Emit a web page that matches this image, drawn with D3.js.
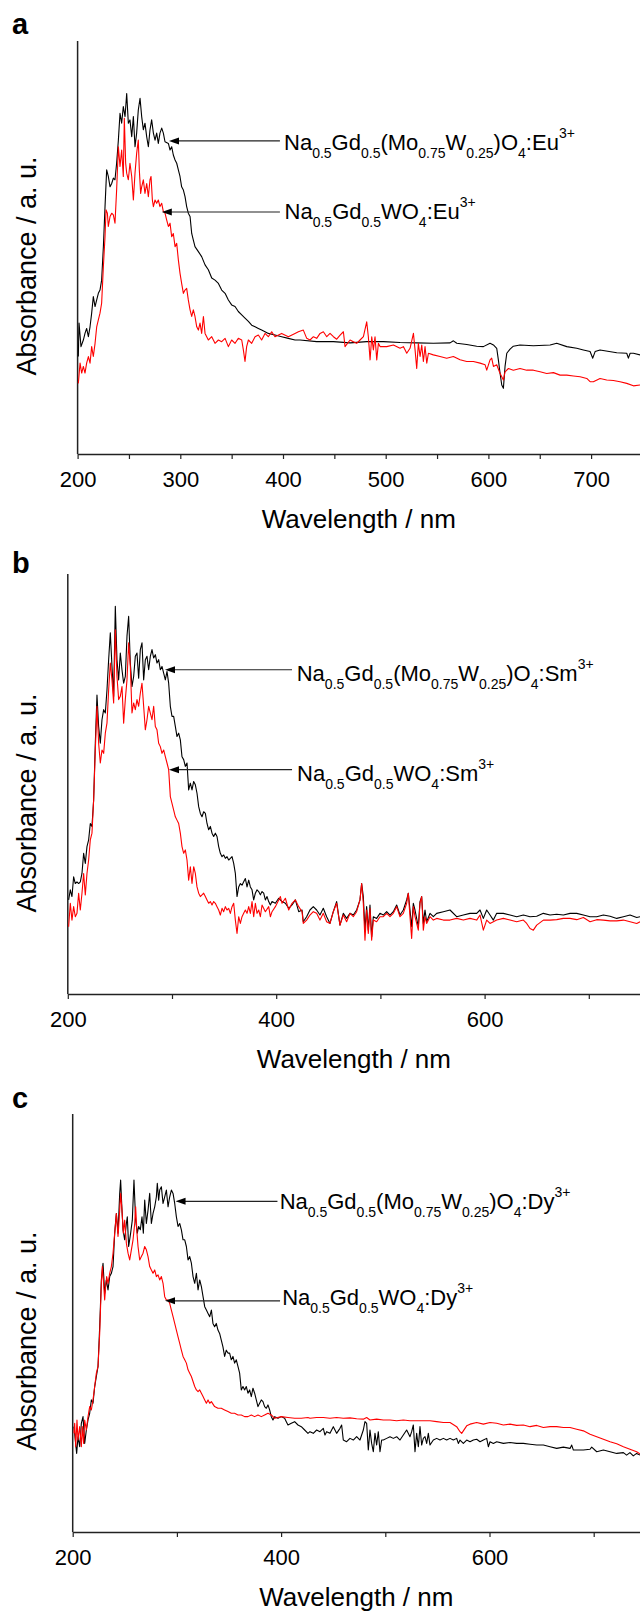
<!DOCTYPE html>
<html>
<head>
<meta charset="utf-8">
<script src="https://cdn.jsdelivr.net/npm/d3@7"></script>
<style>
	html, body { margin: 0; padding: 0; background: #fff; }
	svg { display: block; }
	text { font-family: "Liberation Sans", Arial, Helvetica, sans-serif; fill: #000; }
</style>
</head>
<body>
<svg id="chart" width="640" height="1612"></svg>
<script>
"use strict";

// spectra: [wavelength nm, absorbance a.u.]
// panel a, Eu3+
const aMoW = [
	[200.7,23.6],[201.4,31.7],[203.3,26.0],[205.6,27.6],[207.2,29.2],[208.8,30.4],[210.5,28.4],[212.1,30.8],[213.7,34.1],[215.3,38.1],
	[217.0,35.7],[218.6,37.3],[220.2,38.9],[221.8,39.7],[223.4,42.1],[225.1,50.2],[226.7,59.9],[228.3,68.8],[229.9,67.2],[231.6,64.7],
	[233.2,65.5],[234.8,66.8],[236.4,66.4],[238.0,70.4],[239.7,76.0],[241.3,82.5],[242.9,80.1],[244.5,84.1],[246.2,81.7],[247.8,87.3],
	[249.4,80.1],[251.0,80.9],[252.7,76.8],[254.3,81.7],[255.9,74.4],[257.5,77.7],[259.1,83.3],[260.8,86.1],[262.4,81.7],[264.0,78.5],
	[265.6,80.1],[267.3,76.8],[268.9,74.4],[270.5,78.5],[272.1,80.9],[273.8,77.7],[275.4,76.0],[277.0,77.7],[278.6,75.2],[280.2,77.7],
	[281.9,78.9],[283.5,77.7],[285.1,75.6],[288.4,75.2],[290.0,73.6],[291.6,74.4],[293.2,72.4],[294.9,71.2],[296.5,70.4],[298.1,68.8],
	[299.7,67.2],[301.3,64.7],[303.0,63.9],[304.6,62.3],[306.2,59.9],[307.8,58.3],[309.5,57.5],[311.1,53.4],[312.7,51.8],[314.3,50.2],
	[317.6,49.0],[320.8,47.8],[324.1,45.8],[327.3,44.6],[330.6,42.6],[333.8,42.1],[337.1,41.3],[340.3,39.7],[343.6,38.9],[346.8,37.3],
	[350.0,36.1],[353.3,35.7],[356.5,34.5],[359.8,33.7],[363.0,32.9],[366.3,32.1],[369.5,31.2],[372.8,30.8],[376.0,30.4],[379.2,30.0],
	[382.5,29.6],[385.7,29.2],[392.2,28.8],[398.7,28.4],[405.2,28.0],[411.7,27.6],[416.6,27.6],[432.8,27.2],[449.1,27.2],[465.3,26.9],
	[481.5,27.2],[497.8,27.2],[514.0,27.0],[530.2,26.9],[546.4,26.8],[562.7,26.9],[565.9,27.4],[569.2,26.8],[578.9,26.5],[588.6,26.1],
	[595.1,26.0],[601.6,26.8],[604.9,26.4],[608.1,25.6],[609.7,22.8],[611.4,19.5],[613.0,16.7],[614.6,15.9],[616.2,21.2],[617.9,24.4],
	[621.1,25.4],[624.3,26.1],[630.8,26.4],[643.8,26.2],[660.1,26.4],[666.5,26.8],[676.3,26.0],[686.0,25.6],[692.5,25.2],[699.0,24.8],
	[701.6,23.2],[703.9,24.8],[708.7,25.2],[725.0,24.5],[734.7,24.4],[736.3,23.2],[738.0,24.4],[741.2,24.4],[747.7,24.0]
];
const aW = [
	[200.7,17.1],[202.4,22.0],[204.0,19.6],[205.6,21.2],[207.2,19.6],[208.8,22.0],[210.5,23.6],[212.1,22.0],[213.7,26.0],[215.3,23.6],
	[217.0,26.8],[218.6,30.8],[220.2,32.5],[221.8,34.1],[223.4,36.5],[225.1,45.4],[226.7,52.6],[227.7,59.1],[229.0,58.3],[229.9,55.1],
	[231.6,57.5],[233.2,58.3],[234.8,57.9],[236.4,55.9],[238.0,63.9],[239.7,74.4],[241.3,69.6],[242.9,73.6],[244.5,67.2],[245.5,81.3],
	[246.8,70.4],[247.8,68.0],[249.4,66.4],[251.0,70.4],[252.7,67.2],[254.3,61.5],[255.9,68.0],[257.5,72.8],[259.1,76.0],[260.1,68.8],
	[261.4,63.1],[262.4,64.7],[264.0,66.4],[265.6,63.1],[267.3,65.5],[268.9,62.3],[270.5,66.4],[271.5,67.2],[272.8,61.5],[273.8,59.9],
	[275.4,61.5],[277.0,60.7],[278.6,61.5],[280.2,59.9],[281.9,60.7],[283.5,58.7],[285.1,58.3],[286.7,56.7],[288.4,55.1],[290.0,55.9],
	[291.6,52.6],[293.2,53.4],[294.9,50.2],[296.5,51.0],[298.1,47.0],[299.7,43.8],[301.3,41.3],[303.0,38.9],[304.6,39.7],[306.2,40.1],
	[307.8,37.3],[309.5,34.9],[311.1,33.3],[312.7,34.9],[314.3,33.3],[316.0,30.8],[317.6,30.0],[319.2,31.7],[320.8,29.2],[322.5,33.3],
	[324.1,29.2],[325.7,28.4],[327.3,27.6],[330.6,28.4],[333.8,26.8],[337.1,27.6],[340.3,27.2],[343.6,28.0],[346.8,26.0],[350.0,27.6],
	[353.3,26.8],[356.5,28.0],[359.8,27.6],[361.4,25.2],[363.0,22.4],[364.6,26.0],[366.3,27.6],[369.5,26.8],[372.8,28.4],[376.0,28.8],
	[379.2,27.6],[382.5,29.2],[385.7,28.4],[389.0,29.6],[392.2,28.4],[398.7,29.2],[405.2,28.4],[411.7,29.2],[415.0,29.6],[419.8,30.0],
	[423.1,28.0],[426.3,27.6],[429.6,28.4],[432.8,28.0],[436.1,29.2],[439.3,29.6],[442.6,28.4],[445.8,29.2],[449.1,28.4],[452.3,27.8],
	[455.6,28.8],[458.8,29.6],[460.4,26.0],[465.3,27.6],[468.5,27.2],[471.8,26.8],[475.0,27.6],[478.3,28.4],[481.5,32.0],[483.1,28.4],
	[484.8,22.8],[486.4,28.4],[488.0,25.2],[489.6,28.4],[491.3,22.8],[492.9,26.8],[494.5,26.0],[501.0,26.0],[507.5,26.4],[514.0,25.6],
	[517.2,26.0],[520.5,24.4],[523.7,25.6],[527.0,29.2],[528.6,25.2],[530.2,20.7],[531.8,26.8],[533.5,23.6],[535.1,26.4],[536.7,22.4],
	[538.3,26.0],[540.0,22.0],[541.6,24.4],[546.4,24.0],[552.9,23.6],[559.4,23.2],[565.9,23.6],[572.4,22.8],[578.9,22.4],[585.4,22.4],
	[591.9,22.0],[596.8,21.6],[598.4,20.3],[601.6,22.8],[603.2,23.2],[604.9,21.2],[608.1,21.6],[611.4,19.5],[613.0,18.7],[614.6,17.9],
	[616.2,19.9],[619.5,20.7],[624.3,20.3],[630.8,20.7],[637.3,20.3],[643.8,20.3],[650.3,19.9],[656.8,19.5],[663.3,19.7],[669.8,19.1],
	[676.3,19.1],[682.8,18.9],[689.3,18.7],[695.8,18.3],[699.0,17.5],[702.2,17.5],[708.7,18.3],[715.2,17.9],[721.7,17.8],[728.2,17.5],
	[734.7,17.1],[741.2,16.5],[747.7,16.7]
];

// panel b, Sm3+
const bMoW = [
	[200.8,22.4],[202.4,24.8],[204.0,23.2],[205.6,27.9],[207.2,26.3],[208.8,26.7],[210.4,26.3],[212.0,26.7],[213.6,28.7],[215.2,33.5],
	[216.8,31.1],[218.4,35.1],[220.0,36.7],[221.6,40.6],[223.2,39.9],[224.8,46.2],[226.4,59.7],[228.0,71.2],[229.6,63.7],[231.2,59.7],
	[232.8,65.3],[234.4,67.7],[236.0,66.9],[237.6,72.4],[239.2,79.6],[240.8,86.0],[242.4,78.0],[244.0,70.9],[245.6,92.3],[247.2,79.6],
	[248.8,74.8],[250.4,81.2],[252.0,77.2],[253.6,74.0],[255.2,75.6],[256.8,85.2],[258.4,89.9],[260.0,78.8],[261.6,73.2],[263.2,75.6],
	[264.8,80.4],[266.4,81.2],[268.0,75.2],[269.6,82.0],[271.2,83.6],[272.8,74.8],[274.4,79.6],[276.0,80.4],[277.6,77.2],[279.2,80.4],
	[280.8,82.0],[282.4,80.0],[284.0,80.8],[285.6,78.8],[287.2,79.6],[288.8,77.2],[290.4,78.0],[292.0,76.4],[293.6,74.8],[295.2,76.8],
	[296.8,74.0],[298.4,68.5],[300.0,66.1],[301.6,66.1],[303.2,63.7],[304.8,61.3],[306.4,62.1],[308.0,60.5],[309.6,56.5],[311.2,55.8],
	[312.8,54.2],[314.4,55.0],[316.0,48.6],[317.6,50.2],[319.2,48.6],[320.8,50.6],[322.4,49.8],[324.0,47.8],[325.6,44.6],[327.2,43.0],
	[328.8,42.2],[330.4,43.4],[332.0,43.0],[333.6,40.6],[335.2,39.1],[336.8,39.9],[338.4,38.3],[340.0,37.5],[341.6,38.3],[343.2,37.5],
	[344.8,35.1],[346.4,33.5],[348.0,32.7],[349.6,33.1],[351.2,32.3],[352.8,32.7],[354.4,31.9],[356.0,32.3],[357.6,32.7],[359.2,31.1],
	[360.8,28.7],[362.4,23.2],[364.0,25.5],[365.6,26.3],[367.2,25.9],[368.8,26.7],[370.4,27.5],[372.0,25.5],[373.6,27.1],[375.2,25.5],
	[376.8,24.8],[378.4,22.4],[380.0,24.0],[381.6,24.8],[383.2,24.4],[384.8,23.6],[386.4,24.4],[388.0,24.0],[389.6,22.4],[391.2,23.2],
	[392.8,22.0],[394.4,21.2],[396.0,22.0],[399.2,21.6],[402.4,22.8],[405.6,22.0],[408.8,21.6],[412.0,20.4],[415.2,21.2],[418.4,22.4],
	[421.6,19.6],[424.8,20.0],[426.0,17.2],[429.2,18.4],[432.4,20.0],[435.6,20.8],[438.8,20.0],[442.0,18.8],[445.2,20.4],[448.4,18.4],
	[451.6,16.8],[454.8,19.6],[458.0,22.0],[461.2,16.4],[464.4,19.2],[467.6,18.0],[470.8,19.2],[474.0,18.8],[477.2,20.0],[480.4,22.4],
	[482.0,26.3],[483.6,23.2],[485.2,15.2],[486.8,20.8],[488.4,15.2],[490.0,21.2],[491.6,13.6],[493.2,18.4],[496.4,18.0],[499.6,19.2],
	[502.8,18.8],[506.0,19.6],[509.2,18.8],[512.4,19.6],[515.6,21.2],[518.8,18.8],[522.0,20.0],[525.2,22.4],[526.8,24.0],[528.4,20.0],
	[530.0,16.0],[531.6,21.6],[533.2,20.0],[536.4,16.0],[538.0,22.0],[539.6,23.2],[541.2,16.8],[542.8,20.0],[544.4,17.2],[547.6,19.2],
	[550.8,18.4],[554.0,19.2],[560.4,19.6],[566.8,20.0],[573.2,18.4],[579.6,18.8],[586.0,19.2],[592.4,19.2],[595.6,20.0],[598.8,18.0],
	[602.0,20.0],[605.2,18.8],[608.4,17.6],[611.6,19.2],[618.0,19.2],[624.4,18.8],[630.8,18.4],[637.2,18.8],[643.6,18.4],[650.0,18.5],
	[656.4,19.2],[662.8,18.8],[669.2,19.0],[675.6,18.8],[682.0,19.2],[688.4,19.2],[694.8,18.8],[701.2,18.4],[707.6,18.4],[714.0,18.8],
	[720.4,18.5],[726.8,18.0],[733.2,18.4],[739.6,18.8],[746.0,18.2],[749.2,18.4]
];
const bW = [
	[200.8,16.0],[202.4,21.6],[204.0,17.6],[205.6,20.8],[207.2,18.4],[208.8,19.2],[210.4,24.0],[212.0,20.0],[213.6,24.0],[215.2,28.7],
	[216.8,23.6],[218.4,28.7],[220.0,31.9],[221.6,36.7],[223.2,38.3],[224.8,46.2],[226.4,58.1],[228.0,68.5],[229.6,59.7],[231.2,55.0],
	[232.8,58.1],[234.4,57.3],[236.0,62.1],[237.6,64.5],[239.2,72.4],[240.8,78.8],[242.4,74.8],[244.0,69.3],[245.6,86.7],[247.2,75.6],
	[248.8,70.1],[250.4,70.9],[252.0,73.2],[253.6,64.5],[255.2,70.1],[256.8,74.8],[258.4,83.6],[260.0,78.0],[261.6,66.9],[263.2,69.3],
	[264.8,67.7],[266.4,70.1],[268.0,68.5],[269.6,71.6],[271.2,74.0],[272.8,68.5],[274.4,62.9],[276.0,65.3],[277.6,68.5],[279.2,66.9],
	[280.8,65.3],[282.4,68.5],[284.0,63.7],[285.6,62.9],[287.2,59.7],[288.8,58.9],[290.4,57.3],[292.0,58.1],[293.6,56.5],[295.2,55.0],
	[296.8,53.4],[298.4,47.0],[300.0,45.4],[301.6,43.8],[303.2,42.2],[304.8,41.4],[306.4,40.6],[308.0,38.3],[309.6,35.1],[311.2,33.5],
	[312.8,34.3],[314.4,31.9],[316.0,27.1],[317.6,30.3],[319.2,26.3],[320.8,30.3],[322.4,28.7],[324.0,25.5],[325.6,24.0],[327.2,23.2],
	[328.8,23.6],[330.4,24.0],[332.0,23.2],[333.6,22.4],[335.2,21.6],[336.8,22.0],[338.4,21.2],[340.0,22.0],[341.6,21.6],[343.2,20.8],
	[344.8,20.0],[346.4,18.8],[348.0,20.4],[349.6,19.6],[351.2,20.8],[352.8,20.0],[354.4,20.4],[356.0,19.2],[357.6,20.8],[359.2,21.6],
	[360.8,17.6],[362.4,14.4],[364.0,18.4],[365.6,16.8],[367.2,18.4],[368.8,19.2],[370.4,20.0],[372.0,19.2],[373.6,20.8],[375.2,19.2],
	[376.8,22.0],[378.4,18.4],[380.0,21.6],[381.6,19.2],[383.2,20.0],[384.8,18.4],[386.4,21.2],[389.6,19.6],[392.8,20.8],[394.4,18.4],
	[396.0,19.6],[399.2,20.8],[402.4,22.4],[404.0,23.2],[405.6,21.6],[408.8,22.8],[412.0,20.0],[415.2,21.6],[418.4,22.4],[421.6,20.8],
	[424.8,19.6],[426.0,16.8],[429.2,17.6],[432.4,18.8],[435.6,19.6],[438.8,19.2],[442.0,17.6],[445.2,19.2],[448.4,17.2],[451.6,16.8],
	[454.8,19.6],[458.0,21.6],[461.2,16.4],[464.4,18.8],[467.6,17.2],[470.8,19.2],[474.0,18.4],[477.2,19.6],[480.4,22.4],[482.0,26.3],
	[483.6,21.6],[485.2,12.8],[486.8,20.0],[488.4,14.4],[490.0,20.4],[491.6,12.8],[493.2,17.6],[496.4,17.2],[499.6,18.4],[502.8,18.4],
	[506.0,19.2],[509.2,18.4],[512.4,19.2],[515.6,20.8],[518.8,18.4],[522.0,19.2],[525.2,21.6],[526.8,24.0],[528.4,18.4],[530.0,13.2],
	[531.6,20.8],[533.2,18.4],[536.4,15.2],[538.0,21.6],[539.6,23.2],[541.2,15.2],[542.8,18.4],[544.4,16.8],[547.6,18.4],[550.8,17.6],
	[554.0,18.0],[560.4,17.6],[566.8,17.6],[573.2,18.0],[579.6,17.6],[586.0,18.0],[592.4,17.6],[595.6,18.8],[598.8,15.2],[602.0,17.6],
	[605.2,16.8],[608.4,17.2],[611.6,17.6],[618.0,18.0],[624.4,17.6],[630.8,17.2],[637.2,17.6],[640.4,16.8],[643.6,15.6],[646.8,15.2],
	[650.0,16.4],[656.4,17.6],[662.8,17.6],[669.2,17.7],[675.6,18.0],[682.0,18.0],[688.4,17.7],[694.8,18.2],[701.2,17.2],[707.6,17.7],
	[714.0,17.6],[720.4,17.4],[726.8,17.4],[733.2,17.6],[739.6,17.2],[746.0,16.8],[749.2,17.2]
];

// panel c, Dy3+
const cMoW = [
	[201.2,25.2],[202.5,22.0],[203.8,18.8],[205.1,22.8],[206.7,20.4],[208.3,26.0],[209.9,27.6],[211.5,21.2],[213.1,24.4],[214.7,26.8],
	[216.3,28.4],[217.9,31.6],[219.5,30.8],[221.1,34.8],[222.7,37.2],[224.3,39.6],[225.9,49.1],[227.5,60.3],[229.1,64.3],[230.7,57.1],
	[232.3,60.3],[233.9,57.9],[235.5,61.1],[237.1,61.9],[238.7,63.5],[240.3,71.5],[241.9,76.2],[243.5,71.5],[245.1,81.0],[246.0,84.2],
	[247.3,77.0],[248.3,72.3],[249.9,69.9],[251.5,73.8],[252.4,75.4],[253.7,68.3],[255.6,71.5],[257.2,74.6],[258.8,84.2],[260.4,74.6],
	[262.0,71.5],[263.3,73.1],[264.9,72.3],[266.5,75.4],[267.8,71.5],[269.1,79.4],[270.7,73.8],[272.3,77.0],[273.9,81.0],[275.5,73.8],
	[277.1,76.2],[278.7,77.8],[280.3,80.2],[281.2,83.4],[282.5,79.4],[283.5,81.8],[285.1,82.6],[286.7,78.6],[288.3,80.2],[289.9,81.8],
	[291.5,77.8],[293.1,80.2],[294.7,81.8],[296.3,81.0],[297.9,78.6],[299.5,75.4],[301.1,73.1],[302.7,73.8],[304.3,72.3],[305.9,69.9],
	[307.5,69.9],[309.1,68.3],[310.7,65.1],[312.3,65.9],[313.9,64.3],[315.5,61.1],[317.1,59.5],[318.7,61.9],[320.3,57.9],[321.9,60.3],
	[323.5,58.7],[325.1,56.3],[326.7,53.9],[328.3,53.1],[329.9,52.3],[331.5,51.5],[333.1,53.1],[334.6,49.9],[336.2,49.1],[337.8,49.9],
	[339.4,48.3],[341.0,47.5],[342.6,45.9],[344.2,44.3],[345.8,42.0],[347.4,43.5],[349.0,42.8],[350.6,42.8],[352.2,41.2],[353.8,42.0],
	[355.4,40.4],[357.0,41.2],[358.6,39.6],[360.2,38.0],[361.8,34.0],[363.4,34.8],[365.0,34.0],[366.6,34.8],[368.2,33.2],[369.8,34.0],
	[371.4,32.4],[373.0,34.4],[374.6,33.2],[376.2,31.6],[377.8,30.0],[379.4,30.8],[381.0,31.6],[382.6,31.2],[384.2,30.0],[385.8,29.6],
	[387.4,30.4],[389.0,29.2],[390.6,27.6],[392.2,26.8],[393.8,27.6],[397.0,27.2],[400.2,27.6],[403.4,27.2],[405.0,26.4],[406.6,25.6],
	[409.8,26.0],[413.0,26.4],[416.2,25.6],[419.4,25.2],[422.6,24.4],[425.8,23.6],[427.7,24.0],[430.9,23.6],[434.1,24.4],[437.3,24.0],
	[440.5,24.8],[442.1,23.2],[443.7,24.0],[446.9,23.6],[450.1,25.2],[453.3,23.6],[456.5,24.8],[458.1,25.6],[459.7,22.0],[462.9,21.6],
	[466.1,22.4],[469.3,22.0],[472.5,22.8],[475.7,22.0],[478.9,24.4],[480.5,26.4],[482.1,26.0],[483.7,19.6],[485.3,24.4],[486.9,21.2],
	[488.5,19.2],[490.1,23.6],[491.7,20.8],[493.3,24.0],[494.9,19.2],[496.5,22.0],[498.1,22.0],[501.3,22.4],[504.5,22.8],[507.7,22.4],
	[510.9,22.8],[514.1,22.0],[517.3,23.2],[520.5,24.4],[523.7,22.8],[525.3,24.0],[526.9,25.6],[528.5,19.2],[530.1,23.6],[531.7,20.4],
	[533.3,25.2],[534.9,20.8],[536.5,22.4],[538.1,22.8],[539.7,21.2],[541.3,23.6],[542.9,20.8],[546.1,22.0],[549.3,22.4],[552.5,22.0],
	[555.7,22.4],[558.9,22.0],[562.1,22.4],[565.3,22.0],[568.5,22.4],[570.1,21.2],[571.7,22.0],[574.9,21.2],[578.1,22.0],[581.3,21.6],
	[584.5,22.0],[587.7,22.2],[590.9,21.6],[594.1,22.0],[597.3,22.4],[598.9,20.4],[600.5,21.6],[603.7,21.2],[606.9,21.6],[613.3,21.2],
	[619.7,21.4],[626.1,21.2],[632.5,21.2],[638.9,21.0],[645.3,20.8],[651.7,20.8],[658.1,20.4],[664.5,20.0],[670.9,20.3],[677.3,20.0],
	[678.9,20.8],[680.5,19.6],[683.7,19.6],[690.1,19.6],[696.5,19.8],[698.1,20.3],[702.9,19.2],[709.3,19.6],[715.7,19.2],[722.1,18.8],
	[728.5,19.0],[731.6,18.4],[734.8,19.0],[738.0,18.2],[741.2,18.8],[744.4,18.4]
];
const cW = [
	[201.2,23.6],[201.9,26.0],[202.9,20.4],[204.1,26.8],[205.1,22.0],[206.7,25.2],[208.3,20.4],[209.2,25.2],[210.5,21.2],[211.5,26.8],
	[213.1,24.4],[214.7,27.6],[216.3,30.0],[217.9,29.2],[219.5,31.6],[221.1,34.8],[222.7,38.0],[224.3,39.6],[225.9,47.5],[227.5,59.5],
	[228.4,63.5],[229.4,60.3],[230.7,55.5],[231.6,58.7],[232.6,61.1],[233.9,59.5],[235.5,61.9],[237.1,63.5],[238.7,66.7],[240.3,71.5],
	[241.9,76.2],[243.5,70.7],[245.1,77.0],[246.0,81.0],[247.3,77.0],[248.6,71.5],[249.9,74.6],[251.5,69.1],[253.1,66.7],[254.7,65.1],
	[256.3,67.5],[257.9,69.9],[259.5,73.8],[260.4,77.8],[261.7,71.5],[262.7,68.3],[264.3,65.1],[265.9,65.9],[267.5,66.7],[269.1,68.3],
	[270.7,67.5],[272.3,65.9],[273.9,63.5],[275.5,62.7],[277.1,61.9],[278.7,62.7],[280.3,61.1],[281.9,61.5],[283.5,60.3],[285.1,61.1],
	[286.7,59.5],[288.3,56.3],[289.9,55.5],[291.5,55.5],[293.1,54.7],[294.7,53.1],[296.3,51.5],[297.9,49.9],[299.5,48.3],[301.1,46.7],
	[302.7,45.1],[304.3,43.5],[305.9,42.0],[307.5,41.2],[309.1,40.4],[310.7,38.8],[312.3,38.0],[313.9,37.2],[315.5,36.0],[317.1,34.8],
	[318.7,34.0],[320.3,33.6],[321.9,34.0],[323.5,33.2],[325.1,32.4],[326.7,31.6],[328.3,30.8],[329.9,31.6],[331.5,30.8],[333.1,31.2],
	[336.2,30.0],[339.4,29.6],[342.6,29.6],[345.8,29.2],[349.0,28.8],[352.2,28.4],[355.4,28.4],[358.6,28.0],[361.8,28.0],[365.0,27.6],
	[368.2,27.6],[371.4,28.0],[374.6,27.6],[377.8,28.0],[381.0,27.6],[384.2,28.0],[387.4,28.4],[390.6,28.0],[393.8,27.2],[400.2,27.6],
	[406.6,27.4],[413.0,27.2],[419.4,27.2],[425.8,27.4],[427.7,27.2],[434.1,27.4],[440.5,27.4],[446.9,27.2],[453.3,27.4],[459.7,27.2],
	[466.1,27.3],[472.5,27.1],[478.9,27.0],[482.1,27.4],[485.3,26.8],[491.7,27.0],[498.1,26.8],[504.5,26.8],[510.9,26.6],[517.3,26.8],
	[523.7,26.6],[530.1,26.6],[536.5,26.6],[542.9,26.6],[549.3,26.4],[555.7,26.2],[562.1,26.2],[568.5,25.2],[571.7,24.0],[573.3,23.6],
	[574.9,24.2],[578.1,25.4],[581.3,25.8],[587.7,26.2],[594.1,25.8],[600.5,26.2],[606.9,26.0],[613.3,25.6],[619.7,25.8],[626.1,25.5],
	[632.5,25.6],[638.9,25.2],[645.3,25.5],[651.7,25.0],[658.1,25.2],[664.5,25.2],[670.9,25.0],[677.3,25.0],[683.7,24.6],[690.1,24.2],
	[696.5,23.4],[702.9,22.8],[709.3,22.2],[715.7,21.6],[722.1,21.1],[728.5,20.4],[734.8,19.8],[741.2,19.2],[744.4,18.7]
];

// x tick labels
const tickLabelsA = [200, 300, 400, 500, 600, 700];
const tickLabelsBC = [200, 400, 600];

// arrows: tip/tail in nm, y in a.u., label anchor in nm / a.u.
const notesA = [
	{ text: "Na_{0.5}Gd_{0.5}(Mo_{0.75}W_{0.25})O_{4}:Eu^{3+}", tip: 289, tail: 397, y: 75.8, textX: 401, textY: 73.6 },
	{ text: "Na_{0.5}Gd_{0.5}WO_{4}:Eu^{3+}", tip: 282, tail: 397, y: 58.6, textX: 401.5, textY: 56.9 }
];
const notesB = [
	{ text: "Na_{0.5}Gd_{0.5}(Mo_{0.75}W_{0.25})O_{4}:Sm^{3+}", tip: 293.3, tail: 415.2, y: 77.2, textX: 419.7, textY: 74.6 },
	{ text: "Na_{0.5}Gd_{0.5}WO_{4}:Sm^{3+}", tip: 297.1, tail: 415.2, y: 53.4, textX: 420, textY: 50.7 }
];
const notesC = [
	{ text: "Na_{0.5}Gd_{0.5}(Mo_{0.75}W_{0.25})O_{4}:Dy^{3+}", tip: 298.7, tail: 396.5, y: 79.1, textX: 398.6, textY: 77.3 },
	{ text: "Na_{0.5}Gd_{0.5}WO_{4}:Dy^{3+}", tip: 288.6, tail: 399, y: 55.3, textX: 401, textY: 54.2 }
];

const svg = d3.select("#chart");

const panels = [
	{ letter: "a", left: 77.6, per100: 102.7, top: 41, bottom: 454, tickStep: 50, labels: tickLabelsA, black: aMoW, red: aW, notes: notesA, letterY: 34, yLabelY: 266 },
	{ letter: "b", left: 67.8, per100: 104.2, top: 574, bottom: 994, tickStep: 100, labels: tickLabelsBC, black: bMoW, red: bW, notes: notesB, letterY: 573, yLabelY: 803 },
	{ letter: "c", left: 72.7, per100: 104.2, top: 1114, bottom: 1532, tickStep: 100, labels: tickLabelsBC, black: cMoW, red: cW, notes: notesC, letterY: 1108, yLabelY: 1341 }
];

// text with _{sub} and ^{sup} parts
const richText = (sel, str, size, small) => {
	const parts = str.split(/(_\{[^}]*\}|\^\{[^}]*\})/).filter(s => s.length);
	let shift = 0;
	parts.forEach(s => {
		let target = 0, fs = size, t = s;
		if (s[0] === "_") { target = 8; fs = small; t = s.slice(2, -1); }
		else if (s[0] === "^") { target = -12; fs = small; t = s.slice(2, -1); }
		sel.append("tspan").attr("dy", target - shift).attr("font-size", fs).text(t);
		shift = target;
	});
};

const draw = (p) => {
	const x = d3.scaleLinear().domain([200, 750]).range([p.left, p.left + 5.5 * p.per100]);
	const y = d3.scaleLinear().domain([0, 100]).range([p.bottom, p.top]);
	const g = svg.append("g");

	// y axis: bare line
	g.append("line")
		.attr("x1", p.left).attr("x2", p.left)
		.attr("y1", p.top).attr("y2", p.bottom)
		.attr("stroke", "#222").attr("stroke-width", 1.5);

	const xAxis = d3.axisBottom(x)
		.tickValues(d3.range(200, 751, p.tickStep))
		.tickSize(5).tickSizeOuter(0)
		.tickFormat(d => p.labels.includes(d) ? d : "");
	const ax = g.append("g")
		.attr("transform", `translate(0,${p.bottom})`)
		.attr("font-family", null).attr("font-size", null)
		.call(xAxis);
	ax.attr("font-family", null).attr("font-size", null);
	ax.select(".domain").attr("stroke", "#222").attr("stroke-width", 1.5);
	ax.selectAll(".tick line").attr("stroke", "#222").attr("stroke-width", 1.2);
	ax.selectAll(".tick text")
		.attr("y", 33).attr("dy", null)
		.attr("font-size", 22).attr("fill", "#000");

	const line = d3.line().x(d => x(d[0])).y(d => y(d[1]));
	g.append("path").datum(p.black).attr("d", line)
		.attr("fill", "none").attr("stroke", "#000").attr("stroke-width", 1.1).attr("stroke-linejoin", "round");
	g.append("path").datum(p.red).attr("d", line)
		.attr("fill", "none").attr("stroke", "#ff0000").attr("stroke-width", 1.1).attr("stroke-linejoin", "round");

	// arrows + compound labels
	p.notes.forEach(n => {
		const yy = y(n.y);
		g.append("line")
			.attr("x1", x(n.tip) + 6).attr("x2", x(n.tail))
			.attr("y1", yy).attr("y2", yy)
			.attr("stroke", "#222").attr("stroke-width", 1.2);
		g.append("path")
			.attr("d", `M${x(n.tip)},${yy}l10,-3.5v7z`)
			.attr("fill", "#000");
		const t = g.append("text").attr("x", x(n.textX)).attr("y", y(n.textY)).attr("font-size", 22);
		richText(t, n.text, 22, 14);
	});

	g.append("text")
		.attr("x", (p.left + 640) / 2).attr("y", p.bottom + 74)
		.attr("text-anchor", "middle").attr("font-size", 26)
		.text("Wavelength / nm");

	g.append("text")
		.attr("transform", `translate(36,${p.yLabelY}) rotate(-90)`)
		.attr("text-anchor", "middle").attr("font-size", 27)
		.text("Absorbance / a. u.");

	g.append("text")
		.attr("x", 12).attr("y", p.letterY)
		.attr("font-size", 29).attr("font-weight", "bold")
		.text(p.letter);
};

panels.forEach(draw);
</script>
</body>
</html>
